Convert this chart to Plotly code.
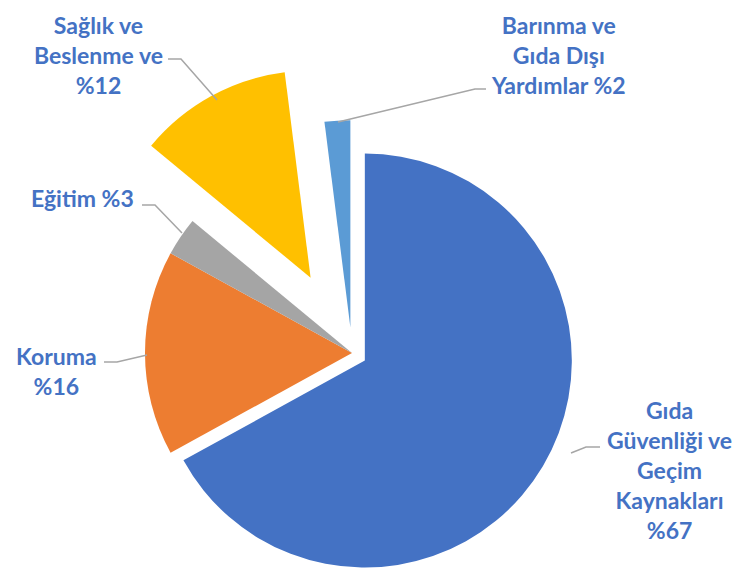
import math
import plotly.graph_objects as go

# ---- data ----
CATEGORIES = ["Gıda Güvenliği ve Geçim Kaynakları", "Koruma", "Eğitim",
              "Sağlık ve Beslenme ve", "Barınma ve Gıda Dışı Yardımlar"]
VALUES = [67, 16, 3, 12, 2]
LABEL_TEXTS = ["Gıda<br>Güvenliği ve<br>Geçim<br>Kaynakları<br>%67",
               "Koruma<br>%16",
               "Eğitim %3",
               "Sağlık ve<br>Beslenme ve<br>%12",
               "Barınma ve<br>Gıda Dışı<br>Yardımlar %2"]

# ---- style ----
OFF = 8                      # page body margin
W, H = 740 - OFF, 577 - OFF
COLORS = ["#4472C4", "#ED7D31", "#A5A5A5", "#FFC000", "#5B9BD5"]
PULL = [0.072, 0.0, 0.0, 0.415, 0.125]
CX, CY, R = 352, 353, 207          # window-pixel centre / radius of the un-pulled pie
TEXT_COLOR = "#4472C4"
FONT = "Lato"
FS = 23
LINE_COLOR = "#A6A6A6"

# label centres (window px) and leader polylines (window px)
LABEL_POS = [(669, 470), (56, 371), (82, 198), (98, 55), (558, 55)]
LEADERS = [
    [(600, 447), (586, 447), (571, 453)],
    [(104, 362), (117, 362), (147, 355)],
    [(142, 205), (155, 205), (182, 233)],
    [(168, 59), (181, 59), (217, 100)],
    [(486, 89), (475, 89), (338, 122)],
]

def px(x):
    return (x - OFF) / W

def py(y):
    return 1 - (y - OFF) / H

fig = go.Figure()
total = sum(VALUES)
cum = 0
for i, v in enumerate(VALUES):
    mid = (cum + v / 2) / total * 2 * math.pi   # clockwise from 12 o'clock
    cum += v
    dx = math.sin(mid) * PULL[i] * R
    dy = -math.cos(mid) * PULL[i] * R
    cx, cy = CX + dx, CY + dy
    colors = [COLORS[j] if j == i else "rgba(0,0,0,0)" for j in range(len(VALUES))]
    fig.add_trace(go.Pie(
        labels=CATEGORIES, values=VALUES, sort=False, direction="clockwise",
        rotation=0, marker=dict(colors=colors, line=dict(width=0)),
        textinfo="none", hoverinfo="label+percent", showlegend=False,
        domain=dict(x=[px(cx - R), px(cx + R)], y=[py(cy + R), py(cy - R)]),
    ))

annotations = []
for (x, y), t in zip(LABEL_POS, LABEL_TEXTS):
    annotations.append(dict(
        x=px(x), y=py(y), xref="paper", yref="paper", text="<b>" + t + "</b>",
        showarrow=False, align="center", xanchor="center", yanchor="middle",
        font=dict(family=FONT, size=FS, color=TEXT_COLOR)))

shapes = []
for pts in LEADERS:
    path = "M " + " L ".join(f"{px(x):.5f},{py(y):.5f}" for x, y in pts)
    shapes.append(dict(type="path", path=path, xref="paper", yref="paper",
                       line=dict(color=LINE_COLOR, width=1.5)))

fig.update_layout(
    width=W, height=H, margin=dict(l=0, r=0, t=0, b=0),
    paper_bgcolor="white", plot_bgcolor="white",
    annotations=annotations, shapes=shapes,
)
fig.write_html("out.html")
